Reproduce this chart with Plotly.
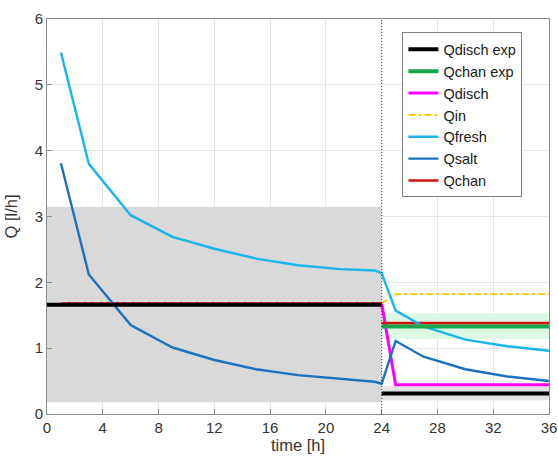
import plotly.graph_objects as go

# Simulated flows (l/h) at the model output times
t_sim = [1, 3, 6, 9, 12, 15, 18, 21, 23.5, 24, 25, 27, 30, 33, 36]
q_fresh = [5.49, 3.80, 3.02, 2.69, 2.51, 2.36, 2.26, 2.20, 2.18, 2.14, 1.57, 1.33, 1.13, 1.03, 0.96]
q_salt = [3.81, 2.12, 1.35, 1.01, 0.82, 0.68, 0.59, 0.53, 0.49, 0.46, 1.11, 0.87, 0.68, 0.57, 0.50]
q_in = [1.68, 1.68, 1.68, 1.68, 1.68, 1.68, 1.68, 1.68, 1.68, 1.68, 1.82, 1.82, 1.82, 1.82, 1.82]
q_disch = [1.68, 1.68, 1.68, 1.68, 1.68, 1.68, 1.68, 1.68, 1.68, 1.68, 0.445, 0.445, 0.445, 0.445, 0.445]

# Channel flow: phase 1 up to the switch, phase 2 afterwards
t_chan_1 = [1, 3, 6, 9, 12, 15, 18, 21, 23.5, 24]
q_chan_1 = [1.68, 1.68, 1.68, 1.68, 1.68, 1.68, 1.68, 1.68, 1.68, 1.68]
t_chan_2 = [24, 25, 27, 30, 33, 36]
q_chan_2 = [1.38, 1.38, 1.38, 1.38, 1.38, 1.38]

# Measured flows (mean and min/max band) for each phase
t_switch = 24
t_phase1 = [0, 24]
t_phase2 = [24, 36]
disch_exp_1 = 1.66
disch_exp_1_band = [0.18, 3.15]
disch_exp_2 = 0.31
disch_exp_2_band = [0.21, 0.42]
chan_exp_2 = 1.33
chan_exp_2_band = [1.14, 1.53]

x_ticks = [0, 4, 8, 12, 16, 20, 24, 28, 32, 36]
y_ticks = [0, 1, 2, 3, 4, 5, 6]

FONT = "Liberation Sans, Arial, sans-serif"

fig = go.Figure()


def band(t, lims, color):
    fig.add_trace(go.Scatter(
        x=[t[0], t[1], t[1], t[0]],
        y=[lims[0], lims[0], lims[1], lims[1]],
        fill="toself", fillcolor=color, mode="lines",
        line=dict(width=0), showlegend=False, hoverinfo="skip"))


band(t_phase1, disch_exp_1_band, "#d9d9d9")
band(t_phase2, disch_exp_2_band, "#e3e3e3")
band(t_phase2, chan_exp_2_band, "#dcf9e6")

fig.add_trace(go.Scatter(x=t_sim, y=q_disch, mode="lines", name="Qdisch",
                         line=dict(color="#ff00ff", width=3), legendrank=3))
fig.add_trace(go.Scatter(x=t_chan_1 + [None] + t_chan_2,
                         y=q_chan_1 + [None] + q_chan_2,
                         mode="lines", name="Qchan",
                         line=dict(color="#d41111", width=2.6), legendrank=7))
fig.add_trace(go.Scatter(x=t_sim, y=q_in, mode="lines", name="Qin",
                         line=dict(color="#ffc000", width=1.8, dash="7px,3px,3px,3px"),
                         legendrank=4))
fig.add_trace(go.Scatter(x=t_sim, y=q_fresh, mode="lines", name="Qfresh",
                         line=dict(color="#18b4ec", width=2.4), legendrank=5))
fig.add_trace(go.Scatter(x=t_sim, y=q_salt, mode="lines", name="Qsalt",
                         line=dict(color="#1a72c0", width=2.4), legendrank=6))
fig.add_trace(go.Scatter(x=t_phase2, y=[chan_exp_2, chan_exp_2], mode="lines",
                         name="Qchan exp", line=dict(color="#14a84a", width=4),
                         legendrank=2))
fig.add_trace(go.Scatter(x=t_phase1 + [None] + t_phase2,
                         y=[disch_exp_1, disch_exp_1, None, disch_exp_2, disch_exp_2],
                         mode="lines", name="Qdisch exp",
                         line=dict(color="black", width=4), legendrank=1))

fig.add_vline(x=t_switch, line=dict(color="#444444", width=1, dash="1px,2px"))

axis_common = dict(
    showgrid=True, gridcolor="#e6e6e6", gridwidth=1,
    showline=True, linecolor="#8c8c8c", linewidth=1, mirror=True,
    ticks="inside", ticklen=5, tickcolor="#8c8c8c",
    zeroline=False, automargin=False,
    tickfont=dict(family=FONT, size=15, color="#333333"),
)

fig.update_xaxes(range=[0, 36], tickvals=x_ticks,
                 title=dict(text="time [h]", font=dict(family=FONT, size=16.5, color="#333333"),
                            standoff=4),
                 **axis_common)
fig.update_yaxes(range=[0, 6], tickvals=y_ticks,
                 title=dict(text="Q [l/h]", font=dict(family=FONT, size=16.5, color="#333333"),
                            standoff=12),
                 **axis_common)

fig.update_layout(
    width=558, height=464,
    margin=dict(l=47, r=9, t=19, b=50),
    plot_bgcolor="white", paper_bgcolor="white",
    font=dict(family=FONT, size=15, color="#333333"),
    legend=dict(x=0.947, y=0.966, xanchor="right", yanchor="top",
                bgcolor="white", bordercolor="#808080", borderwidth=1,
                font=dict(family=FONT, size=14.5, color="#1a1a1a"),
                tracegroupgap=0, itemwidth=30),
)

fig.write_html("out.html")
